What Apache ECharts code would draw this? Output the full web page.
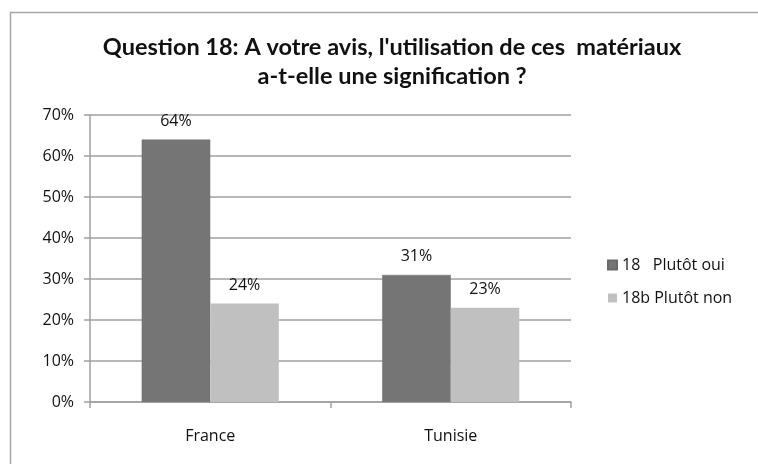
<!DOCTYPE html>
<html>
<head>
<meta charset="utf-8">
<style>
  html, body { margin: 0; padding: 0; background: #ffffff; }
  #chart { width: 758px; height: 464px; }
</style>
<script src="https://cdn.jsdelivr.net/npm/echarts@6/dist/echarts.min.js"></script>
</head>
<body>
<div id="chart"></div>
<script>
// Survey answers per country, in percent
const categories = ['France', 'Tunisie'];
const seriesNames = ['18   Plutôt oui', '18b Plutôt non'];
const plutotOui = [64, 31];
const plutotNon = [24, 23];
const titleLines = [
  "Question 18: A votre avis, l'utilisation de ces  matériaux",
  'a-t-elle une signification ?'
];

const TITLE_FONT = 'Lato, "Open Sans", sans-serif';
const FONT = '"Open Sans", Lato, sans-serif';
const chart = echarts.init(document.getElementById('chart'));

chart.setOption({
  backgroundColor: '#ffffff',
  animation: false,
  color: ['#757575', '#c0c0c0'],
  graphic: [{
    type: 'rect',
    shape: { x: 10.5, y: 12.5, width: 800, height: 500 },
    style: { fill: 'none', stroke: '#a6a6a6', lineWidth: 1.5 },
    silent: true
  }],
  // two lines centred on the middle of the chart frame, which runs past the right edge
  title: {
    text: titleLines.join('\n'),
    left: 392, top: 33, padding: 0, textAlign: 'center',
    textStyle: { fontFamily: TITLE_FONT, fontWeight: 'bold', fontSize: 23.5, lineHeight: 29, color: '#111' }
  },
  legend: {
    orient: 'vertical',
    left: 602, top: 252,
    itemWidth: 9, itemHeight: 9, itemGap: 17,
    icon: 'rect',
    textStyle: { fontFamily: FONT, fontSize: 16, color: '#111' },
    data: seriesNames
  },
  grid: { left: 90, top: 115, width: 481, height: 287, containLabel: false },
  xAxis: {
    type: 'category',
    data: categories,
    axisLine: { lineStyle: { color: '#a0a0a0', width: 1.5 } },
    axisTick: { show: true, length: 6, lineStyle: { color: '#a0a0a0', width: 1.5 } },
    axisLabel: { fontFamily: FONT, fontSize: 16, color: '#111', margin: 26 }
  },
  yAxis: {
    type: 'value', min: 0, max: 70, interval: 10,
    axisLine: { show: true, lineStyle: { color: '#a0a0a0', width: 1.5 } },
    axisTick: { show: true, length: 6, lineStyle: { color: '#a0a0a0', width: 1.5 } },
    splitLine: { lineStyle: { color: '#a0a0a0', width: 1.5 } },
    axisLabel: { fontFamily: FONT, fontSize: 16, color: '#111', margin: 16, formatter: '{value}%' }
  },
  series: [
    {
      name: seriesNames[0], type: 'bar', data: plutotOui,
      barGap: '0%', barCategoryGap: '43%',
      itemStyle: { color: '#757575', borderColor: '#6a6a6a', borderWidth: 0.5 },
      label: { show: true, position: 'top', distance: 10, formatter: '{c}%', fontFamily: FONT, fontSize: 16, color: '#111' }
    },
    {
      name: seriesNames[1], type: 'bar', data: plutotNon,
      barGap: '0%', barCategoryGap: '43%',
      itemStyle: { color: '#c0c0c0' },
      label: { show: true, position: 'top', distance: 10, formatter: '{c}%', fontFamily: FONT, fontSize: 16, color: '#111' }
    }
  ]
});
</script>
</body>
</html>
